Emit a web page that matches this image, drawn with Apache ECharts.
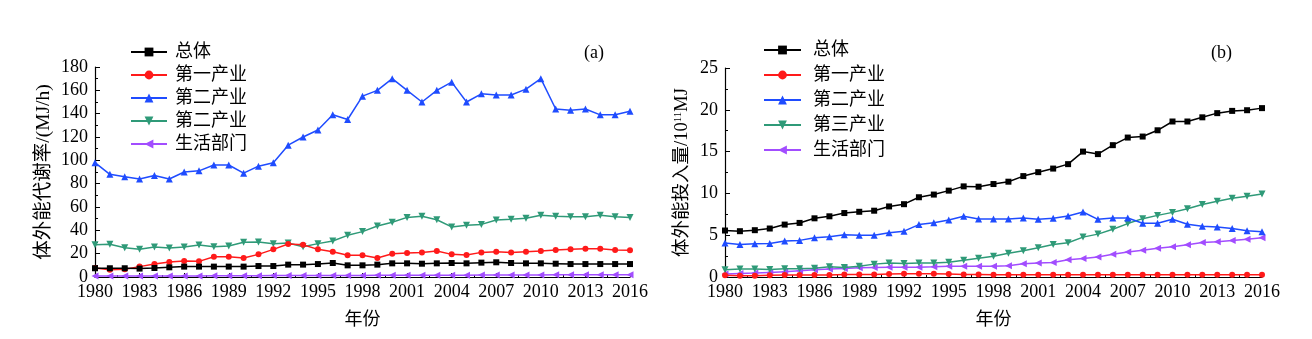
<!DOCTYPE html>
<html><head><meta charset="utf-8">
<script src="https://cdn.jsdelivr.net/npm/echarts@6/dist/echarts.min.js"></script>
<style>html,body{margin:0;padding:0;background:#fff}#c{width:1312px;height:339px}</style>
</head><body><div id="c"></div>
<script>
const years = [];
for (let y = 1980; y <= 2016; y++) years.push(y);

// Panel (a): 体外能代谢率 (MJ/h)
const aTotal = [7.5,7.5,7.5,7.2,7.7,8.3,8.9,8.9,8.9,8.9,8.9,9.4,9.4,10.6,10.6,11.1,12,10,10,10.6,11.7,11.7,11.4,11.7,12,11.7,12.3,12.6,12,11.7,11.7,11.4,11.1,11.1,11.1,11.1,11.1];
const aPrimary = [7.7,6.3,6.6,8.9,11.1,12.9,13.7,13.4,17.4,17.4,16.3,19.4,23.7,28.3,27.7,23.7,21.7,18.6,18.6,16.3,20,20.6,21.1,22.3,19.4,18.9,21.1,21.7,21.1,21.7,22.3,23.1,23.7,24.3,24.3,23.1,22.9];
const aSecondary = [98,88,86,84,87,84,90,91,96,96,89,95,98,113,120,126,139,135,155,160,170,160,150,160,167,150,157,156,156,161,170,144,143,144,139,139,142];
const aTertiary = [27.7,28,25.1,23.7,25.7,24.9,25.7,27.4,26,26.6,29.7,30,28.6,29.1,26,28.6,30.9,35.7,38.9,43.7,46.9,51.1,52,49.1,42.9,44.3,45.1,48.9,49.4,50.3,52.9,52,51.7,51.7,52.9,51.7,50.9];
const aLiving = [0.8,0.8,0.8,0.8,0.8,0.9,0.9,0.9,1.0,1.0,1.0,1.0,1.2,1.2,1.2,1.2,1.3,1.3,1.3,1.4,1.4,1.5,1.5,1.5,1.6,1.6,1.7,1.8,1.8,1.8,1.8,1.9,2.0,2.0,2.0,2.0,2.0];

// Panel (b): 体外能投入量 (10^11 MJ)
const bTotal = [5.56,5.48,5.6,5.8,6.27,6.47,7.02,7.26,7.65,7.8,7.93,8.44,8.71,9.54,9.86,10.33,10.84,10.8,11.12,11.4,12.07,12.54,12.97,13.5,15.0,14.7,15.77,16.68,16.8,17.55,18.6,18.6,19.1,19.6,19.87,19.95,20.2];
const bPrimary = [0.2,0.15,0.15,0.2,0.25,0.25,0.25,0.25,0.3,0.3,0.3,0.35,0.4,0.4,0.4,0.35,0.3,0.3,0.28,0.27,0.27,0.27,0.27,0.27,0.26,0.26,0.26,0.26,0.26,0.26,0.26,0.26,0.26,0.26,0.26,0.26,0.26];
const bSecondary = [4.06,3.9,3.98,4.02,4.3,4.38,4.69,4.81,5.05,5.0,5.0,5.28,5.48,6.27,6.5,6.82,7.26,6.94,6.94,6.94,7.06,6.9,7.02,7.3,7.77,6.9,7.06,7.06,6.43,6.43,6.9,6.3,6.07,5.99,5.8,5.52,5.4];
const bTertiary = [0.87,0.95,0.95,0.9,0.99,0.99,1.06,1.22,1.14,1.3,1.54,1.66,1.62,1.66,1.66,1.77,2.01,2.25,2.48,2.84,3.15,3.5,3.9,4.1,4.77,5.13,5.72,6.39,6.98,7.37,7.73,8.16,8.68,9.07,9.42,9.66,9.94];
const bLiving = [0.35,0.43,0.47,0.55,0.63,0.75,0.87,0.95,1.03,1.1,1.14,1.18,1.18,1.18,1.22,1.3,1.3,1.3,1.3,1.34,1.58,1.66,1.73,2.05,2.21,2.4,2.72,3.0,3.19,3.43,3.63,3.86,4.14,4.22,4.38,4.53,4.69];

const namesA = ['总体','第一产业','第二产业','第二产业 ','生活部门'];
const namesB = ['总体','第一产业','第二产业','第三产业','生活部门'];

const FONT = "'Liberation Serif','Noto Sans CJK SC',serif";
const colors = ['#000000','#ff1a1a','#1f4cff','#2f9a78','#a24dff'];
const symbols = ['rect','circle','triangle','triangle','triangle'];
const rotates = [0,0,0,180,90];
const sizes = [6,6,7,7,7];

function pairs(arr){ return arr.map((v,i)=>[years[i], v]); }

function mkSeries(names, arrs, idx){
  return arrs.map((arr,k)=>({
    type:'line', name:names[k], xAxisIndex:idx, yAxisIndex:idx,
    data:pairs(arr), symbol:symbols[k], symbolRotate:rotates[k], symbolSize:sizes[k],
    showAllSymbol:true, animation:false,
    lineStyle:{color:colors[k], width:1.5},
    itemStyle:{color:colors[k]},
    z: 10-k
  }));
}

function xAxis(idx){
  return {
    type:'value', gridIndex:idx, min:1980, max:2016, interval:3,
    name:'年份', nameLocation:'middle', nameGap:34,
    nameTextStyle:{fontFamily:FONT, fontSize:18, color:'#000'},
    axisLine:{show:true, onZero:false, lineStyle:{color:'#000', width:1.2}},
    axisTick:{show:true, inside:true, length:4, lineStyle:{color:'#000'}},
    minorTick:{show:true, splitNumber:2, length:2, lineStyle:{color:'#000'}},
    splitLine:{show:false},
    axisLabel:{fontFamily:FONT, fontSize:18, color:'#000', margin:6, formatter:v=>String(v)}
  };
}
function yAxis(idx, max, interval, name, gap, fs, rich){
  return {
    type:'value', gridIndex:idx, min:0, max:max, interval:interval,
    name:name, nameLocation:'middle', nameGap:gap, nameRotate:90,
    nameTextStyle:Object.assign({fontFamily:FONT, fontSize:fs, color:'#000'}, rich?{rich:rich}:{}),
    axisLine:{show:true, lineStyle:{color:'#000', width:1.2}},
    axisTick:{show:true, inside:true, length:5, lineStyle:{color:'#000'}},
    minorTick:{show:true, splitNumber:2, length:3, lineStyle:{color:'#000'}},
    splitLine:{show:false},
    axisLabel:{fontFamily:FONT, fontSize:18, color:'#000', margin:7}
  };
}

const chart = echarts.init(document.getElementById('c'), null, {renderer:'canvas'});
chart.setOption({
  backgroundColor:'#fff',
  animation:false,
  grid:[
    {left:95, right:682, top:67, bottom:62, containLabel:false},
    {left:725, right:50, top:68, bottom:62, containLabel:false}
  ],
  xAxis:[xAxis(0), xAxis(1)],
  yAxis:[
    yAxis(0, 180, 20, '体外能代谢率/(MJ/h)', 41, 19.5),
    yAxis(1, 25, 5, '体外能投入量/10{sup|11}MJ', 33, 18.5, {sup:{fontFamily:FONT, fontSize:11, verticalAlign:'top', padding:[0,0,8,0], color:'#000'}})
  ],
  legend:[
    {data:namesA, orient:'vertical', left:125, top:38, itemWidth:36, itemHeight:11, itemGap:5,
     textStyle:{fontFamily:FONT, fontSize:18, color:'#000', lineHeight:18, padding:[0,0,0,3]}},
    {data:namesB, orient:'vertical', left:758, top:36, itemWidth:37, itemHeight:11, itemGap:7,
     textStyle:{fontFamily:FONT, fontSize:18, color:'#000', lineHeight:18, padding:[0,0,0,7]}}
  ],
  graphic:[
    {type:'text', left:584, top:44, style:{text:'(a)', font:"18px 'Liberation Serif'", fill:'#000'}},
    {type:'text', left:1211, top:44, style:{text:'(b)', font:"18px 'Liberation Serif'", fill:'#000'}}
  ],
  series:[].concat(
    mkSeries(namesA, [aTotal,aPrimary,aSecondary,aTertiary,aLiving], 0),
    mkSeries(namesB, [bTotal,bPrimary,bSecondary,bTertiary,bLiving], 1)
  )
});
</script></body></html>
